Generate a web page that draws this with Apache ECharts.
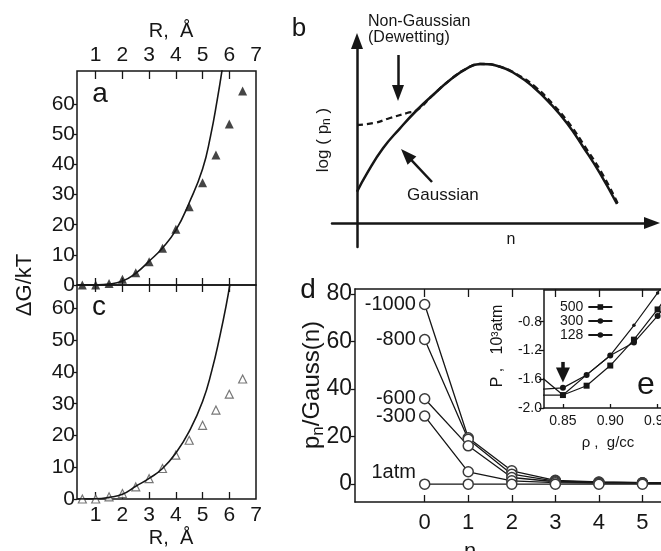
<!DOCTYPE html>
<html>
<head>
<meta charset="utf-8">
<script src="https://cdn.jsdelivr.net/npm/echarts@6/dist/echarts.min.js"></script>
<style>
  html, body { margin: 0; padding: 0; background: #fff; }
  #chart { width: 661px; height: 551px; }
</style>
</head>
<body>
<div id="chart"></div>
<script>
var FONT = '"Liberation Sans", Arial, sans-serif';
var INK = '#161616';

// panels a and c: dG/kT against R
var rPts = [0.5, 1, 1.5, 2, 2.5, 3, 3.5, 4, 4.5, 5, 5.5, 6, 6.5];
var dgA = [0, 0, 0.5, 1.9, 4.1, 7.7, 12.2, 18.5, 26, 33.9, 43.1, 53.4, 64.4];
var dgC = [0, 0, 0.7, 1.7, 3.8, 6.4, 9.6, 13.8, 18.5, 23.2, 28, 33, 37.8];
var fitAR = [0.3, 1, 1.5, 2, 2.5, 3, 3.5, 4, 4.5, 5, 5.3, 5.55, 5.75];
var fitAG = [0, 0.05, 0.3, 1.3, 3.9, 7.9, 12.3, 18.2, 27.3, 38.5, 49.5, 61.5, 72.5];
var fitCR = [0.3, 1, 1.5, 2, 2.5, 3, 3.5, 4, 4.5, 5, 5.35, 5.65, 5.88, 6.05];
var fitCG = [0, 0.05, 0.5, 1.5, 4, 6.5, 9.6, 14.5, 21.3, 30.7, 40.6, 51.4, 60.8, 69];
var rTicks = [1, 2, 3, 4, 5, 6, 7];
var dgTicks = [0, 10, 20, 30, 40, 50, 60];

// panel b: schematic log(pn)
var bN = [0, 0.1, 0.26, 0.43, 0.6, 0.76, 0.93, 1.1, 1.23, 1.43, 1.6, 1.76, 1.93, 2.1, 2.26, 2.43, 2.6];
var bGauss = [0.313, 0.497, 0.747, 0.947, 1.13, 1.28, 1.43, 1.547, 1.59, 1.563, 1.48, 1.363, 1.197, 0.997, 0.763, 0.497, 0.19];
var bN2 = [0, 0.17, 0.33, 0.5, 0.6, 0.76, 0.93, 1.1, 1.23, 1.43, 1.61, 1.78, 1.95, 2.12, 2.28, 2.45, 2.61];
var bDewet = [0.98, 1.0, 1.05, 1.1, 1.13, 1.28, 1.43, 1.547, 1.59, 1.563, 1.48, 1.363, 1.197, 0.997, 0.763, 0.497, 0.19];

// panel d: pn/Gauss(n)
var nVals = [0, 1, 2, 3, 4, 5, 6];
var pressNames = ['-1000', '-800', '-600', '-300', '1atm'];
var ratio1000 = [75.5, 19.5, 5.6, 1.6, 0.9, 0.6, 0.5];
var ratio800 = [60.8, 18.9, 4.2, 1.3, 0.8, 0.6, 0.5];
var ratio600 = [35.9, 16.1, 2.8, 1.0, 0.6, 0.5, 0.4];
var ratio300 = [28.6, 5.2, 1.4, 0.6, 0.4, 0.4, 0.3];
var ratio1atm = [0, 0, 0, 0, 0, 0, 0];
var nTicks = [0, 1, 2, 3, 4, 5];
var ratioTicks = [0, 20, 40, 60, 80];

// inset e: P against density
var rho = [0.825, 0.85, 0.875, 0.9, 0.925, 0.95, 0.975];
var P500 = [-1.82, -1.82, -1.69, -1.41, -1.05, -0.63, -0.15];
var P300 = [-1.74, -1.72, -1.54, -1.27, -1.09, -0.72, -0.3];
var P128 = [-1.545, -1.82, -1.54, -1.27, -0.85, -0.40, 0.1];
var rhoTicks = [0.85, 0.9, 0.95];
var pTicks = [-2.0, -1.6, -1.2, -0.8];

function zip(xs, ys) {
  return xs.map(function (x, i) { return [x, ys[i]]; });
}

function axis(o) {
  var base = {
    type: 'value',
    splitLine: { show: false },
    axisLine: { show: false, onZero: false },
    axisTick: { show: false },
    axisLabel: { show: false }
  };
  return Object.assign(base, o);
}
function line() {
  return { show: true, onZero: false, lineStyle: { color: INK, width: 1.5 } };
}
function ticks(vals, len, inside) {
  return { show: true, inside: inside, length: len, customValues: vals, lineStyle: { color: INK, width: 1.3 } };
}
function labels(vals, size, margin, fmt) {
  var l = { show: true, customValues: vals, fontSize: size, margin: margin, color: INK, fontFamily: FONT };
  if (fmt) l.formatter = fmt;
  return l;
}
function txt(s, x, y, size, opt) {
  opt = opt || {};
  return {
    type: 'text', x: x, y: y, rotation: opt.rot || 0, z: 100,
    style: {
      text: s, fill: INK, font: size + 'px ' + FONT,
      textAlign: opt.align || 'center', textVerticalAlign: 'middle',
      align: opt.align || 'center', verticalAlign: 'middle',
      rich: opt.rich
    }
  };
}

var myChart = echarts.init(document.getElementById('chart'));
var border = { show: true, borderColor: INK, borderWidth: 1.5, backgroundColor: 'transparent', outerBoundsMode: 'none' };

var pressSeries = [ratio1000, ratio800, ratio600, ratio300, ratio1atm].map(function (vals, i) {
  return {
    type: 'line', name: pressNames[i], xAxisIndex: 5, yAxisIndex: 3, data: zip(nVals, vals),
    symbol: 'circle', symbolSize: 10,
    itemStyle: { color: '#fff', borderColor: '#3a3a3a', borderWidth: 1.5 },
    lineStyle: { color: INK, width: 1.3 },
    label: {
      show: true, position: 'left', distance: 3, fontSize: 20, color: INK, fontFamily: FONT,
      offset: i === 4 ? [0, -12] : [0, 0],
      formatter: function (p) { return p.dataIndex === 0 ? p.seriesName : ''; }
    }
  };
});

myChart.setOption({
  animation: false,
  grid: [
    Object.assign({ left: 77, top: 71, width: 179, height: 214 }, border),
    Object.assign({ left: 77, top: 285, width: 179, height: 214 }, border),
    { left: 332, top: 41, width: 320, height: 206, show: false, outerBoundsMode: 'none' },
    { left: 355, top: 289, width: 331, height: 213, show: false, outerBoundsMode: 'none' },
    { left: 544, top: 290, width: 142, height: 118, show: true, borderWidth: 0, backgroundColor: '#fff', outerBoundsMode: 'none' }
  ],
  xAxis: [
    axis({ gridIndex: 0, position: 'top', min: 0.3, max: 7, axisTick: ticks(rTicks.slice(0, 6), 8, true), axisLabel: labels(rTicks, 21, 5) }),
    axis({ gridIndex: 0, position: 'bottom', min: 0.3, max: 7, axisTick: ticks(rTicks.slice(0, 6), 7, true) }),
    axis({ gridIndex: 1, position: 'top', min: 0.3, max: 7, axisTick: ticks(rTicks.slice(0, 6), 7, true) }),
    axis({ gridIndex: 1, position: 'bottom', min: 0.3, max: 7, axisTick: ticks(rTicks.slice(0, 6), 7, true), axisLabel: labels(rTicks, 21, 6) }),
    axis({ gridIndex: 2, min: -0.25, max: 2.95,
      axisLine: { show: true, onZero: true, symbol: ['none', 'triangle'], symbolSize: [12, 16], lineStyle: { color: INK, width: 2.5 } } }),
    axis({ gridIndex: 3, position: 'bottom', min: -1.6, max: 6, axisLine: line(), axisTick: ticks(nTicks, 7, true), axisLabel: labels(nTicks, 22, 10) }),
    axis({ gridIndex: 3, position: 'top', min: -1.6, max: 6, axisLine: line(), axisTick: ticks(nTicks, 8, true) }),
    axis({ gridIndex: 4, position: 'bottom', min: 0.83, max: 0.98, axisLine: line(), axisTick: ticks(rhoTicks, 4, true),
      axisLabel: labels(rhoTicks, 14, 6, function (v) { return v.toFixed(2); }) }),
    axis({ gridIndex: 4, position: 'top', min: 0.83, max: 0.98, axisLine: line() })
  ],
  yAxis: [
    axis({ gridIndex: 0, min: 0, max: 71, axisTick: ticks(dgTicks, 3, false), axisLabel: labels(dgTicks, 21, 2) }),
    axis({ gridIndex: 1, min: 0, max: 67.4, axisTick: ticks(dgTicks, 3, false), axisLabel: labels(dgTicks, 21, 2) }),
    axis({ gridIndex: 2, min: -0.24, max: 1.82,
      axisLine: { show: true, onZero: true, symbol: ['none', 'triangle'], symbolSize: [12, 16], lineStyle: { color: INK, width: 2.5 } } }),
    axis({ gridIndex: 3, min: -7.5, max: 82, axisLine: line(), axisTick: ticks(ratioTicks, 4, false), axisLabel: labels(ratioTicks, 23, 3) }),
    axis({ gridIndex: 4, min: -2.0, max: -0.36, axisLine: line(), axisTick: ticks(pTicks, 5, false),
      axisLabel: labels(pTicks, 14, 2, function (v) { return v.toFixed(1); }) })
  ],
  legend: {
    data: ['500', '300', '128'],
    orient: 'vertical', left: 555, top: 295,
    align: 'right', itemWidth: 24, itemHeight: 7, itemGap: 0,
    textStyle: { fontSize: 14, color: INK, fontFamily: FONT, lineHeight: 13 },
    selectedMode: false
  },
  series: [
    { type: 'line', xAxisIndex: 0, yAxisIndex: 0, data: zip(fitAR, fitAG), smooth: true, showSymbol: false,
      lineStyle: { color: INK, width: 1.6 } },
    { type: 'scatter', xAxisIndex: 0, yAxisIndex: 0, data: zip(rPts, dgA), symbol: 'triangle', symbolSize: 9,
      itemStyle: { color: INK } },
    { type: 'line', xAxisIndex: 3, yAxisIndex: 1, data: zip(fitCR, fitCG), smooth: true, showSymbol: false,
      lineStyle: { color: INK, width: 1.6 } },
    { type: 'scatter', xAxisIndex: 3, yAxisIndex: 1, data: zip(rPts, dgC), symbol: 'triangle', symbolSize: 8,
      itemStyle: { color: '#fff', borderColor: '#555', borderWidth: 1.2 } },

    { type: 'line', xAxisIndex: 4, yAxisIndex: 2, data: zip(bN2, bDewet), smooth: true, showSymbol: false,
      lineStyle: { color: INK, width: 2.3, type: [6, 4] } },
    { type: 'line', xAxisIndex: 4, yAxisIndex: 2, data: zip(bN, bGauss), smooth: true, showSymbol: false,
      lineStyle: { color: INK, width: 2.5 },
      markLine: {
        silent: true, animation: false, symbol: ['none', 'triangle'], symbolSize: [12, 16],
        label: { show: false }, lineStyle: { color: INK, width: 2.5, type: 'solid' },
        data: [
          [{ coord: [0.41, 1.68] }, { coord: [0.41, 1.30] }],
          [{ coord: [0.75, 0.41] }, { coord: [0.495, 0.682] }]
        ]
      } }
  ].concat(pressSeries).concat([
    { type: 'line', name: '500', xAxisIndex: 7, yAxisIndex: 4, data: zip(rho, P500),
      symbol: 'rect', symbolSize: 6, itemStyle: { color: INK }, lineStyle: { color: INK, width: 1.2 } },
    { type: 'line', name: '300', xAxisIndex: 7, yAxisIndex: 4, data: zip(rho, P300),
      symbol: 'circle', symbolSize: 6, itemStyle: { color: INK }, lineStyle: { color: INK, width: 1.2 } },
    { type: 'line', name: '128', xAxisIndex: 7, yAxisIndex: 4, data: zip(rho, P128),
      symbol: 'circle', symbolSize: 3.5, itemStyle: { color: INK }, lineStyle: { color: INK, width: 1.2 },
      markLine: {
        silent: true, animation: false, symbol: ['none', 'triangle'], symbolSize: [14, 15],
        label: { show: false }, lineStyle: { color: INK, width: 3.5, type: 'solid' },
        data: [[{ coord: [0.85, -1.36] }, { coord: [0.85, -1.54] }]]
      } }
  ]),
  graphic: [
    txt('R,  Å', 171, 31, 20),
    txt('R,  Å', 171, 538, 20),
    txt('ΔG/kT', 25, 285, 22, { rot: Math.PI / 2 }),
    txt('a', 100, 94, 28),
    txt('c', 99, 307, 28),
    txt('b', 299, 29, 26),
    txt('d', 308, 290, 28),
    txt('e', 646, 385, 32),
    txt('Non-Gaussian', 368, 22, 16, { align: 'left' }),
    txt('(Dewetting)', 368, 38, 16, { align: 'left' }),
    txt('Gaussian', 407, 195, 17, { align: 'left' }),
    txt('log ( p{s|n} )', 323, 140, 17, { rot: Math.PI / 2, rich: { s: { fontSize: 12, padding: [8, 0, 0, 0], fill: INK, fontFamily: FONT } } }),
    txt('n', 511, 240, 16),
    txt('p{s|n}/Gauss(n)', 312, 385, 24, { rot: Math.PI / 2, rich: { s: { fontSize: 17, padding: [12, 0, 0, 0], fill: INK, fontFamily: FONT } } }),
    txt('n', 470, 552, 22),
    txt('P ,   10³atm', 498, 346, 16, { rot: Math.PI / 2 }),
    txt('ρ ,  g/cc', 608, 443, 15)
  ]
});
</script>
</body>
</html>
